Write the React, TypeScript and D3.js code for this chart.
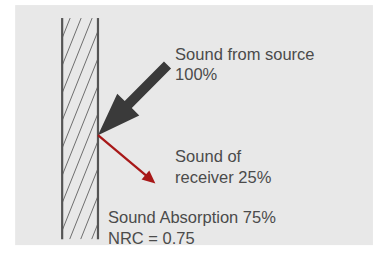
import * as d3 from "d3";
import { useEffect, useRef } from "react";

// labels shown in the diagram
const sourceLines = ["Sound from source", "100%"];
const receiverLines = ["Sound of", "receiver 25%"];
const absorptionLines = ["Sound Absorption 75%", "NRC = 0.75"];

// share of sound (percent)
const incident = 100;
const reflected = 25;
const absorbed = 75;

const W = 379;
const H = 254;

const App = () => {
  const svgRef = useRef<SVGSVGElement>(null);

  useEffect(() => {
    const svg = d3.select(svgRef.current);
    svg.selectAll("*").remove();

    // diagram coordinate space -> pixels
    const x = d3.scaleLinear().domain([0, 100]).range([0, W]);
    const y = d3.scaleLinear().domain([0, 100]).range([0, H]);

    const textColor = "#4b4b4b";
    const font = "'Liberation Sans', Arial, sans-serif";

    //фон
    svg.append("rect")
      .attr("x", x(4)).attr("y", y(2))
      .attr("width", x(98.4) - x(4)).attr("height", y(96.5) - y(2))
      .attr("fill", "#e8e8e8");

    //стена
    const wallL = x(16.4), wallR = x(25.85);
    const wallT = y(7.1), wallB = y(94.2);

    svg.append("clipPath").attr("id", "wallClip")
      .append("rect")
      .attr("x", wallL).attr("y", wallT)
      .attr("width", wallR - wallL).attr("height", wallB - wallT);

    const slope = 2.5;
    const gap = 11;
    const hatch = d3.range(-12, 22).map(i => wallL + 8 + i * gap);
    svg.append("g").attr("clip-path", "url(#wallClip)")
      .selectAll("line")
      .data(hatch)
      .enter()
      .append("line")
      .attr("x1", d => d)
      .attr("y1", wallT)
      .attr("x2", d => d - (wallB - wallT) / slope)
      .attr("y2", wallB)
      .attr("stroke", "#6e6e6e")
      .attr("stroke-width", 1);

    svg.selectAll(".wall")
      .data([wallL, wallR])
      .enter()
      .append("line")
      .attr("class", "wall")
      .attr("x1", d => d).attr("x2", d => d)
      .attr("y1", wallT).attr("y2", wallB)
      .attr("stroke", "#555")
      .attr("stroke-width", 2.2);

    //стрелка падающего звука
    const hit: [number, number] = [wallR, y(53.2)];
    const arrow = (from: [number, number], to: [number, number], shaft: number, headLen: number, headHalf: number) => {
      const dx = to[0] - from[0], dy = to[1] - from[1];
      const len = Math.hypot(dx, dy);
      const ux = dx / len, uy = dy / len;
      const px = -uy, py = ux;
      const bx = to[0] - ux * headLen, by = to[1] - uy * headLen;
      const s = shaft / 2;
      const pts: [number, number][] = [
        [from[0] + px * s, from[1] + py * s],
        [bx + px * s, by + py * s],
        [bx + px * headHalf, by + py * headHalf],
        to,
        [bx - px * headHalf, by - py * headHalf],
        [bx - px * s, by - py * s],
        [from[0] - px * s, from[1] - py * s],
      ];
      return d3.line()(pts) + "Z";
    };

    const srcTail: [number, number] = [x(44.2), y(25.6)];
    svg.append("path")
      .attr("d", arrow(srcTail, hit, incident / 10, 43, 15.5))
      .attr("fill", "#3a3a3a");

    //отраженный звук
    const recTip: [number, number] = [x(41), y(72.2)];
    const rdx = recTip[0] - hit[0], rdy = recTip[1] - hit[1];
    const rl = Math.hypot(rdx, rdy);
    const headLen = 13;
    const lineEnd: [number, number] = [recTip[0] - rdx / rl * headLen * 0.8, recTip[1] - rdy / rl * headLen * 0.8];
    svg.append("line")
      .attr("x1", hit[0]).attr("y1", hit[1])
      .attr("x2", lineEnd[0]).attr("y2", lineEnd[1])
      .attr("stroke", "#a81818")
      .attr("stroke-width", reflected / 11);
    svg.append("path")
      .attr("d", arrow([recTip[0] - rdx / rl * headLen, recTip[1] - rdy / rl * headLen], recTip, 0, headLen, 6))
      .attr("fill", "#a81818");

    //подписи
    const labels = [
      { lines: sourceLines, x: x(46.2), y: y(23.6) },
      { lines: receiverLines, x: x(46.2), y: y(63.8) },
      { lines: absorptionLines, x: x(28.5), y: y(87.8) },
    ];
    labels.forEach(l => {
      svg.append("text")
        .attr("x", l.x).attr("y", l.y)
        .style("font-family", font)
        .style("font-size", "16.5px")
        .style("fill", textColor)
        .selectAll("tspan")
        .data(l.lines)
        .enter()
        .append("tspan")
        .attr("x", l.x)
        .attr("dy", (_d, i) => (i === 0 ? 0 : 20.5))
        .text(d => d);
    });

    svg.attr("data-absorbed", absorbed);
  }, []);

  return (
    <svg
      ref={svgRef}
      width={W}
      height={H}
      style={{ position: "absolute", left: 0, top: 0, background: "#fff" }}
    />
  );
};

export default App;
